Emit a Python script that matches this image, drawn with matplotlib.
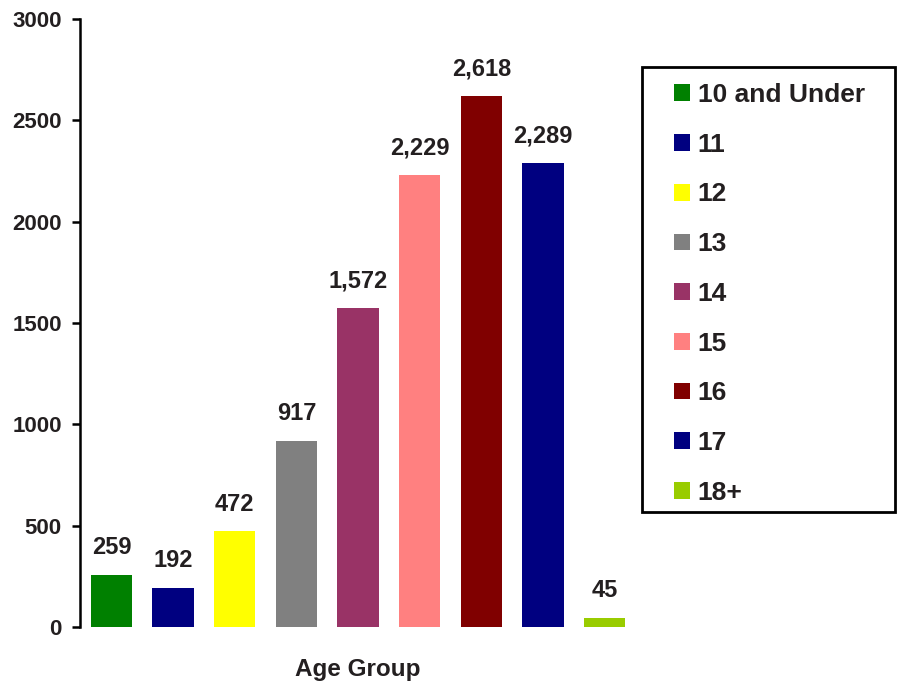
import matplotlib
matplotlib.use("Agg")
import matplotlib.pyplot as plt
from matplotlib.patches import Patch, Rectangle

categories = ["10 and Under", "11", "12", "13", "14", "15", "16", "17", "18+"]
values = [259, 192, 472, 917, 1572, 2229, 2618, 2289, 45]
colors = ["#008000", "#000080", "#FFFF00", "#808080", "#993366",
          "#FF8080", "#800000", "#000080", "#99CC00"]
yticks = [0, 500, 1000, 1500, 2000, 2500, 3000]

plt.rcParams['font.family'] = ['Liberation Sans', 'DejaVu Sans']
plt.rcParams['font.weight'] = 'bold'
TXT = '#231f20'

W, H = 897, 687
fig = plt.figure(figsize=(W/100, H/100), dpi=100)
ax = fig.add_axes([80/W, (H-627)/H, (636-80)/W, (627-19)/H])

x = list(range(len(values)))
ax.bar(x, values, width=0.67, color=colors)
ax.set_xlim(-0.51, 8.51)
ax.set_ylim(0, 3000)
ax.set_yticks(yticks)
ax.set_yticklabels([str(t) for t in yticks], fontsize=16, fontweight='bold', color=TXT)
ax.set_xticks([])
for s in ['top', 'right', 'bottom']:
    ax.spines[s].set_visible(False)
ax.spines['left'].set_linewidth(1.8)
ax.tick_params(axis='y', direction='out', length=6, width=1.8, pad=7)

for xi, v in zip(x, values):
    ax.annotate(f"{v:,}", (xi, v), xytext=(0, 15), textcoords='offset points',
                ha='center', va='baseline', fontsize=17, fontweight='bold', color=TXT)

ax.set_xlabel("Age Group", fontsize=17.5, fontweight='bold', color=TXT, labelpad=22)

# legend frame
fig.patches.append(Rectangle((642/W, 1-512/H), (895-642)/W, (512-67)/H,
                             transform=fig.transFigure, facecolor='white',
                             edgecolor='black', linewidth=2, zorder=0))
handles = [Patch(facecolor=c, edgecolor='none') for c in colors]
leg = fig.legend(handles, categories, loc='upper left',
                 bbox_to_anchor=(674/W, 1-83/H), bbox_transform=fig.transFigure,
                 fontsize=19, handlelength=0.6, handleheight=0.6,
                 labelspacing=0.975, handletextpad=0.3, borderpad=0,
                 borderaxespad=0, frameon=False)
for t in leg.get_texts():
    t.set_color(TXT)
    t.set_fontweight('bold')

fig.savefig("out.png", dpi=100)
